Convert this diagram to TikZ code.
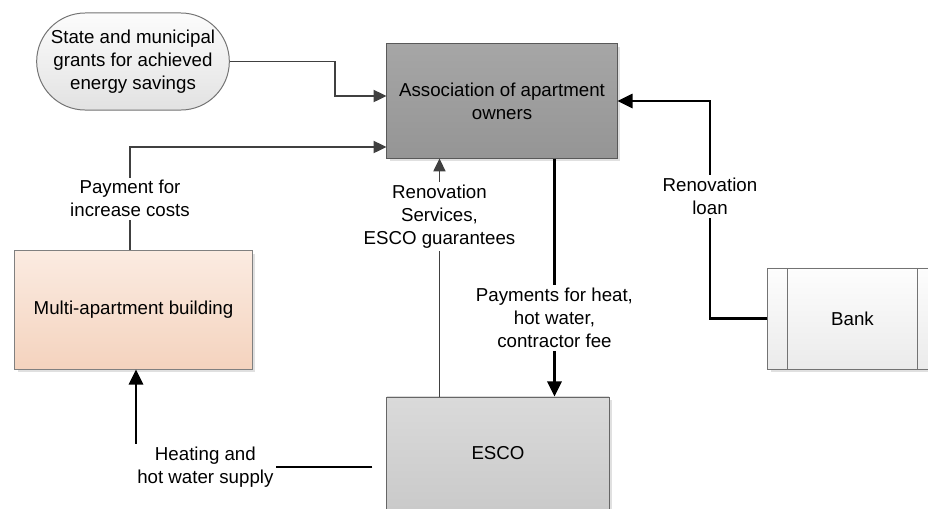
\documentclass[tikz,border=0pt]{standalone}
\usepackage{fontspec}
\setmainfont{Liberation Sans}
\usetikzlibrary{arrows.meta,calc,shadows,shapes.misc}

\definecolor{AssocTop}{HTML}{A6A6A6}
\definecolor{AssocBottom}{HTML}{959595}
\definecolor{EscoTop}{HTML}{DADADA}
\definecolor{EscoBottom}{HTML}{CACACA}
\definecolor{HouseTop}{HTML}{FBEBE1}
\definecolor{HouseBottom}{HTML}{F4D3BE}
\definecolor{GrantTop}{HTML}{FCFCFC}
\definecolor{GrantBottom}{HTML}{E2E2E2}
\definecolor{BankTop}{HTML}{FDFDFD}
\definecolor{BankBottom}{HTML}{EBEBEB}
\definecolor{FlowGray}{HTML}{404040}

\begin{document}
\begin{tikzpicture}[
        %Environment Config (one unit = one pixel of the sketch)
        x=0.025cm, y=-0.025cm,
        font=\fontsize{13.3}{16.4}\selectfont,
        Block/.style={%Style for the boxes
            draw=black!60,
            line width=0.7pt,
            align=center,
            inner sep=2pt,
            drop shadow={shadow xshift=0.08cm, shadow yshift=-0.08cm, fill=black!12, opacity=1}
        },
        GrayFlow/.style={%Style for the grey flows
            -{Triangle[length=0.32cm, width=0.3cm]},
            FlowGray,
            line width=1.3pt
        },
        BlackFlow/.style={%Style for the black flows
            -{Triangle[length=0.38cm, width=0.36cm]},
            black,
            line width=1.5pt
        },
        FlowLabel/.style={%Style for the texts on the flows
            fill=white,
            text=black,
            align=center,
            inner sep=2pt
        }
    ]
    \useasboundingbox (0,0) rectangle (928,508);

    %%%%%%%%%%%%%%%%%%%%%%%%%%%%%%%%%%%%%%%%%%%%%%%%%%%%%%%%%%%%%%%%%%%%%%%%%%%%
    % BLOCKS
    %%%%%%%%%%%%%%%%%%%%%%%%%%%%%%%%%%%%%%%%%%%%%%%%%%%%%%%%%%%%%%%%%%%%%%%%%%%%
    \node[rounded rectangle, draw=black!55, line width=0.7pt, align=center,
        top color=GrantTop, bottom color=GrantBottom,
        minimum width=5.05cm, minimum height=2.425cm] (grants) at (133,61.5)
        {State and municipal\\grants for achieved\\energy savings};
    \node[Block, top color=AssocTop, bottom color=AssocBottom, draw=black!65,
        minimum width=5.75cm, minimum height=2.85cm] (assoc) at (502,101)
        {Association of apartment\\owners};
    \node[Block, top color=HouseTop, bottom color=HouseBottom, draw=black!50,
        minimum width=5.925cm, minimum height=2.95cm] (building) at (133.5,310)
        {Multi-apartment building};
    \node[Block, top color=EscoTop, bottom color=EscoBottom,
        minimum width=5.55cm, minimum height=2.8cm] (esco) at (498,453)
        {ESCO};
    \node[Block, top color=BankTop, bottom color=BankBottom, draw=black!55,
        minimum width=4.225cm, minimum height=2.525cm,
        path picture={
            \draw[black!55, line width=0.7pt]
                ([xshift=0.5cm]path picture bounding box.south west) -- ([xshift=0.5cm]path picture bounding box.north west)
                ([xshift=-0.5cm]path picture bounding box.south east) -- ([xshift=-0.5cm]path picture bounding box.north east);
        }] (bank) at (852.5,318.5)
        {Bank};

    %%%%%%%%%%%%%%%%%%%%%%%%%%%%%%%%%%%%%%%%%%%%%%%%%%%%%%%%%%%%%%%%%%%%%%%%%%%%
    % FLOWS
    %%%%%%%%%%%%%%%%%%%%%%%%%%%%%%%%%%%%%%%%%%%%%%%%%%%%%%%%%%%%%%%%%%%%%%%%%%%%
    % grants and building payments
    \coordinate (grantsbend) at (335,96);
    \draw[GrayFlow] (grants.east) -| (grantsbend) -- (grantsbend -| assoc.west);
    \coordinate (paybend) at (130,147);
    \draw[GrayFlow] (paybend |- building.north) -- node[FlowLabel] {Payment for\\increase costs} (paybend) -- (paybend -| assoc.west);

    % ESCO and association
    \coordinate (renofoot) at ($(esco.north west)+(53,0)$);
    \draw[GrayFlow] (renofoot) -- node[FlowLabel, pos=0.757] {Renovation\\Services,\\ESCO guarantees} (renofoot |- assoc.south);
    \coordinate (payfoot) at ($(assoc.south west)+(168,0)$);
    \draw[BlackFlow] (payfoot) -- node[FlowLabel, pos=0.67] {Payments for heat,\\hot water,\\contractor fee} (payfoot |- esco.north);

    % bank loan
    \coordinate (loanbend) at (710,101);
    \draw[BlackFlow] (bank.west) -- (bank.west -| loanbend) -- node[FlowLabel, pos=0.56] {Renovation\\loan} (loanbend) -- (loanbend -| assoc.east);

    % heat supply
    \coordinate (heatbend) at (136,467);
    \draw[BlackFlow, shorten <=0.35cm] ($(esco.west)+(0,14)$) -- node[FlowLabel, pos=0.723] {Heating and\\hot water supply} (heatbend) -- (heatbend |- building.south);
\end{tikzpicture}
\end{document}
